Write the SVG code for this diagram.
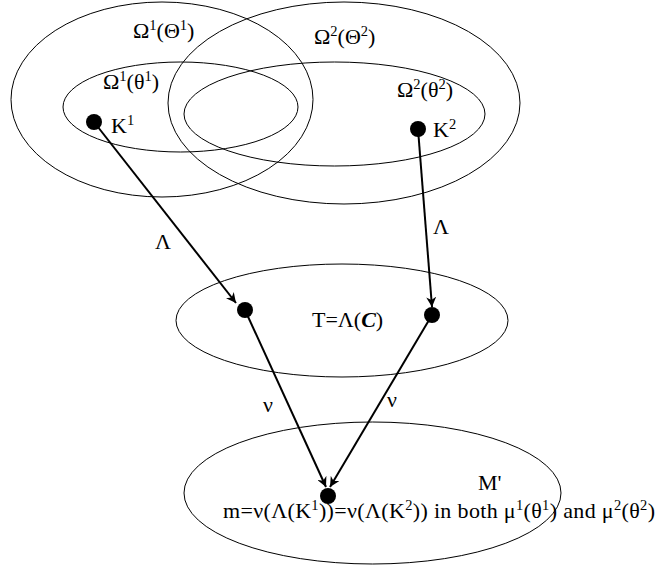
<svg xmlns="http://www.w3.org/2000/svg" width="656" height="569" viewBox="0 0 656 569">
<style>
.el{fill:none;stroke:#000;stroke-width:1}
.dot{fill:#000}
.t{font-family:"Liberation Serif","Times New Roman",serif;font-size:22px;fill:#000}
.s{font-size:14.5px}
.c{stroke:#000;stroke-width:2;fill:none;marker-end:url(#ah)}
</style>
<defs>
<marker id="ah" markerUnits="userSpaceOnUse" markerWidth="11" markerHeight="10" refX="10" refY="5" orient="auto" viewBox="0 0 11 10">
<path d="M0,0 L10,5 L0,10 L3,5 z" fill="#000"/>
</marker>
</defs>
<rect width="656" height="569" fill="#fff"/>
<g id="omega1-big">
<ellipse class="el" cx="162" cy="99.5" rx="151" ry="97.5"/>
<text class="t" x="133" y="38">Ω<tspan class="s" dy="-8">1</tspan><tspan dy="8">(Θ</tspan><tspan class="s" dy="-8">1</tspan><tspan dy="8">)</tspan></text>
</g>
<g id="omega2-big">
<ellipse class="el" cx="344" cy="103" rx="176" ry="101"/>
<text class="t" x="314" y="44">Ω<tspan class="s" dy="-8">2</tspan><tspan dy="8">(Θ</tspan><tspan class="s" dy="-8">2</tspan><tspan dy="8">)</tspan></text>
</g>
<g id="omega1-small">
<ellipse class="el" cx="180.5" cy="107" rx="117.5" ry="45"/>
<text class="t" x="103" y="89">Ω<tspan class="s" dy="-8">1</tspan><tspan dy="8">(θ</tspan><tspan class="s" dy="-8">1</tspan><tspan dy="8">)</tspan></text>
</g>
<g id="omega2-small">
<ellipse class="el" cx="334.5" cy="114" rx="150.5" ry="52"/>
<text class="t" x="397" y="97">Ω<tspan class="s" dy="-8">2</tspan><tspan dy="8">(θ</tspan><tspan class="s" dy="-8">2</tspan><tspan dy="8">)</tspan></text>
</g>
<g id="k1">
<circle class="dot" cx="94" cy="122" r="8"/>
<text class="t" x="111" y="133">K<tspan class="s" dy="-8">1</tspan></text>
</g>
<g id="k2">
<circle class="dot" cx="418" cy="129" r="8"/>
<text class="t" x="433" y="137">K<tspan class="s" dy="-8">2</tspan></text>
</g>
<g id="T">
<ellipse class="el" cx="342" cy="320.5" rx="166" ry="56.5"/>
<text class="t" x="312" y="327">T=Λ(<tspan font-style="italic" font-weight="bold">C</tspan>)</text>
<circle class="dot" cx="245" cy="310" r="8"/>
<circle class="dot" cx="432" cy="315" r="8"/>
</g>
<g id="M">
<ellipse class="el" cx="372.5" cy="493" rx="188.5" ry="71"/>
<text class="t" x="478" y="490">M'</text>
<circle class="dot" cx="328" cy="496" r="8"/>
<text class="t" x="223" y="518" font-size="23" textLength="432" lengthAdjust="spacing">m=ν(Λ(K<tspan class="s" dy="-8">1</tspan><tspan dy="8">))=ν(Λ(K</tspan><tspan class="s" dy="-8">2</tspan><tspan dy="8">)) in both μ</tspan><tspan class="s" dy="-8">1</tspan><tspan dy="8">(θ</tspan><tspan class="s" dy="-8">1</tspan><tspan dy="8">) and μ</tspan><tspan class="s" dy="-8">2</tspan><tspan dy="8">(θ</tspan><tspan class="s" dy="-8">2</tspan><tspan dy="8">)</tspan></text>
</g>
<g id="connectors">
<line class="c" x1="94" y1="122" x2="236" y2="303"/>
<line class="c" x1="418" y1="129" x2="432" y2="307"/>
<line class="c" x1="245" y1="310" x2="326" y2="487"/>
<line class="c" x1="432" y1="315" x2="330" y2="487"/>
<text class="t" x="155" y="249">Λ</text>
<text class="t" x="433" y="234">Λ</text>
<text class="t" x="263" y="412">ν</text>
<text class="t" x="387" y="407">ν</text>
</g>
</svg>
